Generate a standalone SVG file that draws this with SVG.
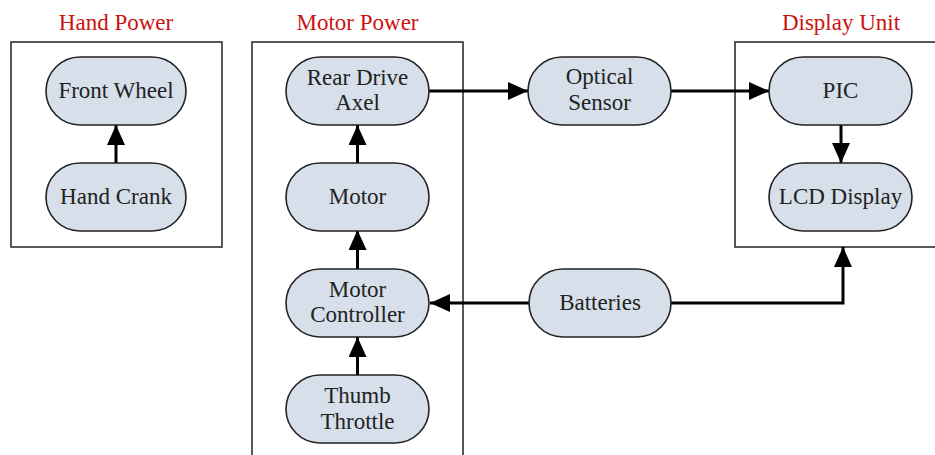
<svg xmlns="http://www.w3.org/2000/svg" width="935" height="455" viewBox="0 0 935 455">
<style>
.box{fill:none;stroke:#222;stroke-width:1.5}
.title{font-family:"Liberation Serif",serif;font-size:23px;fill:#cc1111;text-anchor:middle}
.node rect{fill:#d6dfea;stroke:#222;stroke-width:1.6}
.node text{font-family:"Liberation Serif",serif;font-size:23px;fill:#222;text-anchor:middle}
.conn{fill:none;stroke:#000;stroke-width:3;marker-end:url(#ah)}
</style>
<defs>
<marker id="ah" markerUnits="userSpaceOnUse" markerWidth="20" markerHeight="18" refX="20" refY="9" orient="auto">
<path d="M0,0 L20,9 L0,18 z" fill="#000"/>
</marker>
</defs>
<rect width="935" height="455" fill="#fff"/>
<g id="hand-power">
<rect class="box" x="11" y="42" width="211" height="205"/>
<text class="title" x="116" y="30">Hand Power</text>
</g>
<g id="motor-power">
<rect class="box" x="252" y="42" width="211" height="420"/>
<text class="title" x="357.5" y="30">Motor Power</text>
</g>
<g id="display-unit">
<rect class="box" x="735" y="42" width="220" height="205"/>
<text class="title" x="841" y="30">Display Unit</text>
</g>
<g id="connectors">
<path class="conn" d="M116,163 V125"/>
<path class="conn" d="M357.5,163 V125"/>
<path class="conn" d="M357.5,269 V230"/>
<path class="conn" d="M357.5,375 V337"/>
<path class="conn" d="M429,91 H528"/>
<path class="conn" d="M671,91 H769"/>
<path class="conn" d="M841,125 V163"/>
<path class="conn" d="M529,303 H430"/>
<path class="conn" d="M671,303 H843 V247"/>
</g>
<g id="front-wheel" class="node">
<rect x="46" y="57" width="140" height="68" rx="34"/>
<text x="116" y="98">Front Wheel</text>
</g>
<g id="hand-crank" class="node">
<rect x="46" y="163" width="140" height="68" rx="34"/>
<text x="116" y="204">Hand Crank</text>
</g>
<g id="rear-drive-axel" class="node">
<rect x="286" y="57" width="143" height="68" rx="34"/>
<text x="357.5" y="85">Rear Drive</text>
<text x="357.5" y="110">Axel</text>
</g>
<g id="motor" class="node">
<rect x="286" y="163" width="143" height="68" rx="34"/>
<text x="357.5" y="204">Motor</text>
</g>
<g id="motor-controller" class="node">
<rect x="286" y="269" width="143" height="68" rx="34"/>
<text x="357.5" y="297">Motor</text>
<text x="357.5" y="322">Controller</text>
</g>
<g id="thumb-throttle" class="node">
<rect x="286" y="375" width="143" height="68" rx="34"/>
<text x="357.5" y="403">Thumb</text>
<text x="357.5" y="429">Throttle</text>
</g>
<g id="optical-sensor" class="node">
<rect x="528" y="57" width="143" height="68" rx="34"/>
<text x="599.5" y="84">Optical</text>
<text x="599.5" y="110">Sensor</text>
</g>
<g id="batteries" class="node">
<rect x="529" y="269" width="142" height="68" rx="34"/>
<text x="600" y="310">Batteries</text>
</g>
<g id="pic" class="node">
<rect x="769" y="57" width="143" height="68" rx="34"/>
<text x="840.5" y="98">PIC</text>
</g>
<g id="lcd-display" class="node">
<rect x="769" y="163" width="143" height="68" rx="34"/>
<text x="840.5" y="204">LCD Display</text>
</g>
</svg>
